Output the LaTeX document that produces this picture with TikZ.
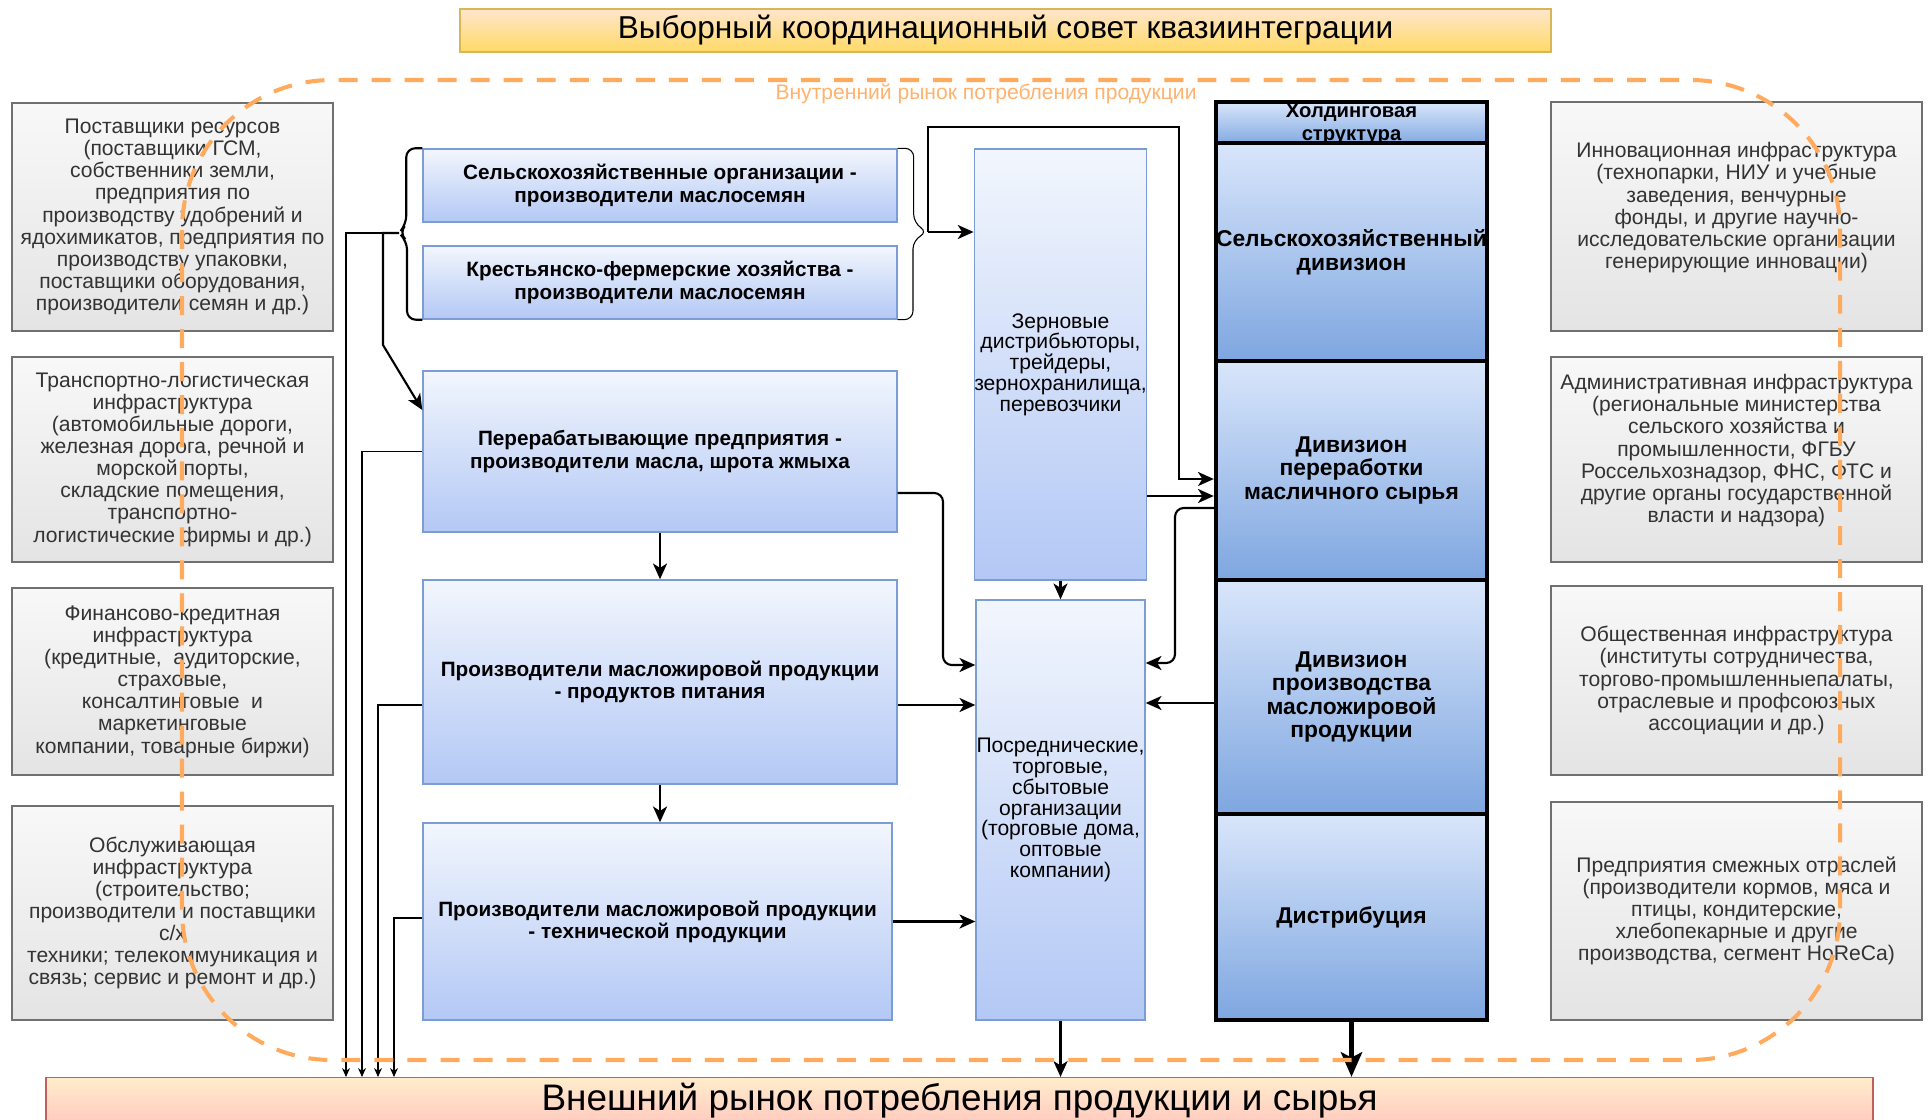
\documentclass[tikz,border=0pt]{standalone}
\usepackage{fontspec}
\setmainfont{Liberation Sans}
\usetikzlibrary{arrows.meta}

\definecolor{infratop}{HTML}{F8F8F8}
\definecolor{infrabot}{HTML}{E4E4E4}
\definecolor{infraline}{HTML}{707070}
\definecolor{infratext}{HTML}{333333}
\definecolor{firmtop}{HTML}{F2F6FD}
\definecolor{firmbot}{HTML}{B3C8F5}
\definecolor{firmline}{HTML}{7C9DD4}
\definecolor{divtop}{HTML}{D9E6FB}
\definecolor{divbot}{HTML}{7EA6E0}
\definecolor{counciltop}{HTML}{FFE6CC}
\definecolor{councilbot}{HTML}{FFD966}
\definecolor{councilline}{HTML}{D6B656}
\definecolor{outertop}{HTML}{FFEDCC}
\definecolor{outerbot}{HTML}{FFC9BF}
\definecolor{outerline}{HTML}{C0605A}
\definecolor{marketline}{HTML}{FFAA5C}
\definecolor{marketlabel}{HTML}{FFB26E}

\tikzstyle{infra} = [rectangle, draw=infraline, line width=0.8pt, top color=infratop, bottom color=infrabot, text=infratext, align=center, inner sep=0pt, minimum width=64.2mm, font=\fontsize{12}{12.6}\selectfont]
\tikzstyle{firm} = [rectangle, draw=firmline, line width=0.8pt, top color=firmtop, bottom color=firmbot, align=center, inner sep=0pt, font=\bfseries\fontsize{11.8}{12.6}\selectfont]
\tikzstyle{agent} = [firm, minimum width=33.8mm, font=\fontsize{12}{11.8}\selectfont]
\tikzstyle{division} = [rectangle, draw=black, line width=2.5pt, top color=divtop, bottom color=divbot, align=center, inner sep=0pt, minimum width=54.2mm, font=\bfseries\fontsize{13}{13.4}\selectfont]
\tikzstyle{arrow} = [line width=1.2pt, -{Stealth[length=9pt, width=8pt, inset=2.5pt]}]
\tikzstyle{thinarrow} = [line width=0.6pt, -{Stealth[length=5pt, width=4.5pt, inset=1.5pt]}]
\tikzstyle{bigarrow} = [line width=2.8pt, -{Stealth[length=14pt, width=12pt, inset=3pt]}]
\tikzstyle{brace} = [line width=1.2pt, rounded corners=5pt]
\tikzstyle{market} = [draw=marketline, line width=2.3pt, dash pattern=on 10.8pt off 8pt, rounded corners=30mm]

\begin{document}
\begin{tikzpicture}[x=0.2mm, y=-0.2mm]
    \useasboundingbox (0,0) rectangle (1932,1120);

    \node (council) [rectangle, draw=councilline, line width=0.8pt, top color=counciltop, bottom color=councilbot, minimum width=218.2mm, minimum height=8.6mm, font=\fontsize{18}{20}\selectfont] at (1005.5,30.5) {Выборный координационный совет квазиинтеграции};
    \node (outer) [rectangle, draw=outerline, line width=0.8pt, top color=outertop, bottom color=outerbot, minimum width=365.4mm, minimum height=8.8mm, font=\fontsize{21}{24}\selectfont] at (959.5,1101) {Внешний рынок потребления продукции и сырья};

    \node (suppliers) [infra, minimum height=45.6mm] at (172.5,217) {Поставщики ресурсов\\(поставщики ГСМ,\\собственники земли,\\предприятия по\\производству удобрений и\\ядохимикатов, предприятия по\\производству упаковки,\\поставщики оборудования,\\производители семян и др.)};
    \node (transport) [infra, minimum height=41mm] at (172.5,459.5) {Транспортно-логистическая\\инфраструктура\\(автомобильные дороги,\\железная дорога, речной и\\морской порты,\\складские помещения,\\транспортно-\\логистические фирмы и др.)};
    \node (finance) [infra, minimum height=37.4mm] at (172.5,681.5) {Финансово-кредитная\\инфраструктура\\(кредитные,\ \ аудиторские,\\страховые,\\консалтинговые\ \ и\\маркетинговые\\компании, товарные биржи)};
    \node (service) [infra, minimum height=42.8mm] at (172.5,913) {Обслуживающая\\инфраструктура\\(строительство;\\производители и поставщики\\с/х\\техники; телекоммуникация и\\связь; сервис и ремонт и др.)};

    \node (innovation) [infra, minimum width=74.2mm, minimum height=45.8mm] at (1736.5,216.5) {Инновационная инфраструктура\\(технопарки, НИУ и учебные\\заведения, венчурные\\фонды, и другие научно-\\исследовательские организации\\генерирующие инновации)\\~};
    \node (admin) [infra, minimum width=74.2mm, minimum height=41mm] at (1736.5,459.5) {Административная инфраструктура\\(региональные министерства\\сельского хозяйства и\\промышленности, ФГБУ\\Россельхознадзор, ФНС, ФТС и\\другие органы государственной\\власти и надзора)\\~};
    \node (public) [infra, minimum width=74.2mm, minimum height=37.8mm] at (1736.5,680.5) {Общественная инфраструктура\\(институты сотрудничества,\\торгово-промышленныепалаты,\\отраслевые и профсоюзных\\ассоциации и др.)};
    \node (adjacent) [infra, minimum width=74.2mm, minimum height=43.6mm] at (1736.5,911) {Предприятия смежных отраслей\\(производители кормов, мяса и\\птицы, кондитерские,\\хлебопекарные и другие\\производства, сегмент HoReCa)};

    \node (agrorg) [firm, minimum width=94.8mm, minimum height=14.6mm] at (660,185.5) {Сельскохозяйственные организации -\\производители маслосемян};
    \node (farms) [firm, minimum width=94.8mm, minimum height=14.6mm] at (660,282.5) {Крестьянско-фермерские хозяйства -\\производители маслосемян};
    \node (crushers) [firm, minimum width=94.8mm, minimum height=32.2mm] at (660,451.5) {Перерабатывающие предприятия -\\производители масла, шрота жмыха};
    \node (foodprod) [firm, minimum width=94.8mm, minimum height=40.8mm] at (660,682) {Производители масложировой продукции\\- продуктов питания};
    \node (techprod) [firm, minimum width=93.8mm, minimum height=39.4mm] at (657.5,921.5) {Производители масложировой продукции\\- технической продукции};
    \node (grain) [agent, minimum height=86.2mm] at (1060.5,364.5) {Зерновые\\дистрибьюторы,\\трейдеры,\\зернохранилища,\\перевозчики};
    \node (traders) [agent, minimum height=84mm] at (1060.5,810) {Посреднические,\\торговые,\\сбытовые\\организации\\(торговые дома,\\оптовые\\компании)};

    \node (holding) [division, minimum height=8.8mm, inner ysep=-8pt, font=\bfseries\fontsize{11.5}{13}\selectfont] at (1351.5,124) {Холдинговая\\структура};
    \node (agrodiv) [division, minimum height=43.6mm] at (1351.5,252) {Сельскохозяйственный\\дивизион};
    \node (crushdiv) [division, minimum height=43.8mm] at (1351.5,470.5) {Дивизион\\переработки\\масличного сырья};
    \node (fatdiv) [division, minimum height=46.8mm] at (1351.5,697) {Дивизион\\производства\\масложировой\\продукции};
    \node (distrib) [division, minimum height=41.2mm] at (1351.5,917) {Дистрибуция};

    \coordinate (lefttip) at (399,233);
    \coordinate (righttip) at (928,232);

    \draw [brace] (agrorg.north west) -- ++(-16,0) -- ++(0,76) -- (lefttip) -- ++(8,8) |- (farms.south west);
    \draw [brace, line width=0.6pt] (agrorg.north east) -- ++(16,0) -- ++(0,75) -- (righttip) -- ++(-15,8) |- (farms.south east);

    \draw [arrow] (lefttip) -| ++(-16,112) -- (crushers.west |- 0,410);
    \draw [thinarrow] (lefttip) -| (346,0 |- outer.north);
    \draw [thinarrow] (crushers.west) -| (362,0 |- outer.north);
    \draw [thinarrow] (foodprod.west |- 0,705) -| (378,0 |- outer.north);
    \draw [thinarrow] (techprod.west |- 0,918) -| (394,0 |- outer.north);

    \draw [arrow] (righttip) -- (righttip -| grain.west);
    \draw [arrow] (righttip) |- (1179,127) |- (crushdiv.west |- 0,479);
    \draw [arrow, rounded corners=5pt] (crushers.east |- 0,493) -| (943,665) -- (traders.west |- 0,665);
    \draw [arrow] (foodprod.east |- 0,705) -- (traders.west |- 0,705);
    \draw [arrow] (techprod.east) -- (techprod.east -| traders.west);
    \draw [arrow] (crushers.south) -- (foodprod.north);
    \draw [arrow] (foodprod.south) -- (foodprod.south |- techprod.north);
    \draw [arrow] (grain.south) -- (traders.north);
    \draw [arrow] (grain.east |- 0,496) -- (crushdiv.west |- 0,496);
    \draw [arrow, rounded corners=5pt] (crushdiv.west |- 0,508) -| (1175,663) -- (traders.east |- 0,663);
    \draw [arrow] (fatdiv.west |- 0,703) -- (traders.east |- 0,703);
    \draw [arrow, line width=1.6pt] (traders.south) -- (traders.south |- outer.north);
    \draw [bigarrow] (distrib.south) -- (distrib.south |- outer.north);

    \draw [market] (182,80) rectangle (1840,1060);
    \node (innerlabel) [text=marketlabel, font=\fontsize{12}{14}\selectfont] at (986,94) {Внутренний рынок потребления продукции};

\end{tikzpicture}
\end{document}
